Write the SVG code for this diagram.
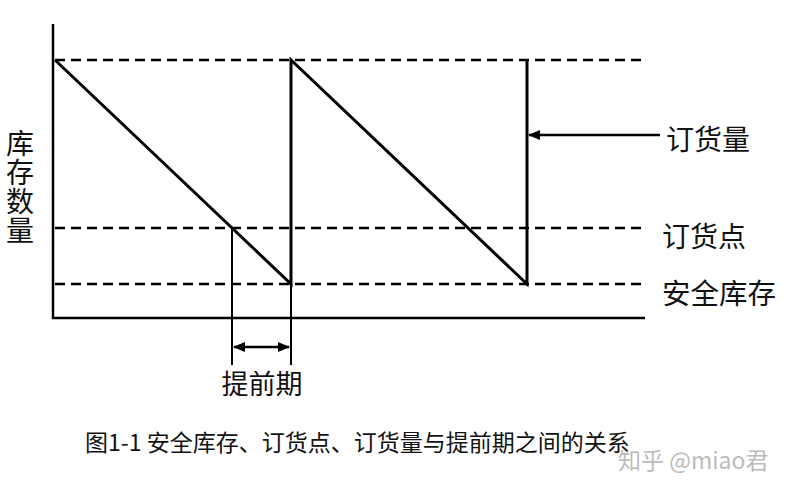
<svg xmlns="http://www.w3.org/2000/svg" width="789" height="490" viewBox="0 0 789 490">
<style>
.t{font-family:"Noto Sans CJK SC","Liberation Sans",sans-serif;fill:#111}
.d{stroke:#000;stroke-width:2.5;stroke-dasharray:10,6;fill:none}
.s{stroke:#000;fill:none}
</style>
<defs>
<marker id="ah" viewBox="0 0 12 10" refX="11" refY="5" markerWidth="12" markerHeight="10" markerUnits="userSpaceOnUse" orient="auto-start-reverse">
<path d="M0,0 L12,5 L0,10 Z" fill="#000"/>
</marker>
</defs>
<rect width="789" height="490" fill="#fff"/>
<g id="axes">
<line class="s" x1="53" y1="24" x2="53" y2="319" stroke-width="2.5"/>
<line class="s" x1="52" y1="318" x2="645" y2="318" stroke-width="2.5"/>
</g>
<g id="levels">
<line class="d" x1="55" y1="60" x2="645" y2="60"/>
<line class="d" x1="55" y1="228" x2="645" y2="228"/>
<line class="d" x1="55" y1="284" x2="645" y2="284"/>
</g>
<g id="connectors">
<polyline class="s" stroke-width="3" stroke-linejoin="miter" points="55,60 291,284 291,60 527,284 527,60"/>
<line class="s" x1="232" y1="228" x2="232" y2="365" stroke-width="2"/>
<line class="s" x1="291" y1="284" x2="291" y2="365" stroke-width="2"/>
<line class="s" x1="234" y1="347" x2="289" y2="347" stroke-width="2.5" marker-start="url(#ah)" marker-end="url(#ah)"/>
<line class="s" x1="660" y1="135" x2="529" y2="135" stroke-width="2.5" marker-end="url(#ah)"/>
</g>
<g id="label-y">
<text class="t" font-size="28" x="20" y="129" style="writing-mode:vertical-rl" letter-spacing="1">库存数量</text>
</g>
<g id="label-order-qty"><text class="t" font-size="28" x="666" y="150">订货量</text></g>
<g id="label-reorder"><text class="t" font-size="28" x="662" y="247">订货点</text></g>
<g id="label-safety"><text class="t" font-size="28.5" x="662" y="304">安全库存</text></g>
<g id="label-lead"><text class="t" font-size="27" x="262" y="394" text-anchor="middle">提前期</text></g>
<g id="caption"><text class="t" font-size="23" x="85" y="451">图1-1 安全库存、订货点、订货量与提前期之间的关系</text></g>
<g id="watermark"><text font-family="Noto Sans CJK SC,Liberation Sans,sans-serif" font-size="23" fill="#bbb" x="618" y="469">知乎 @miao君</text></g>
</svg>
